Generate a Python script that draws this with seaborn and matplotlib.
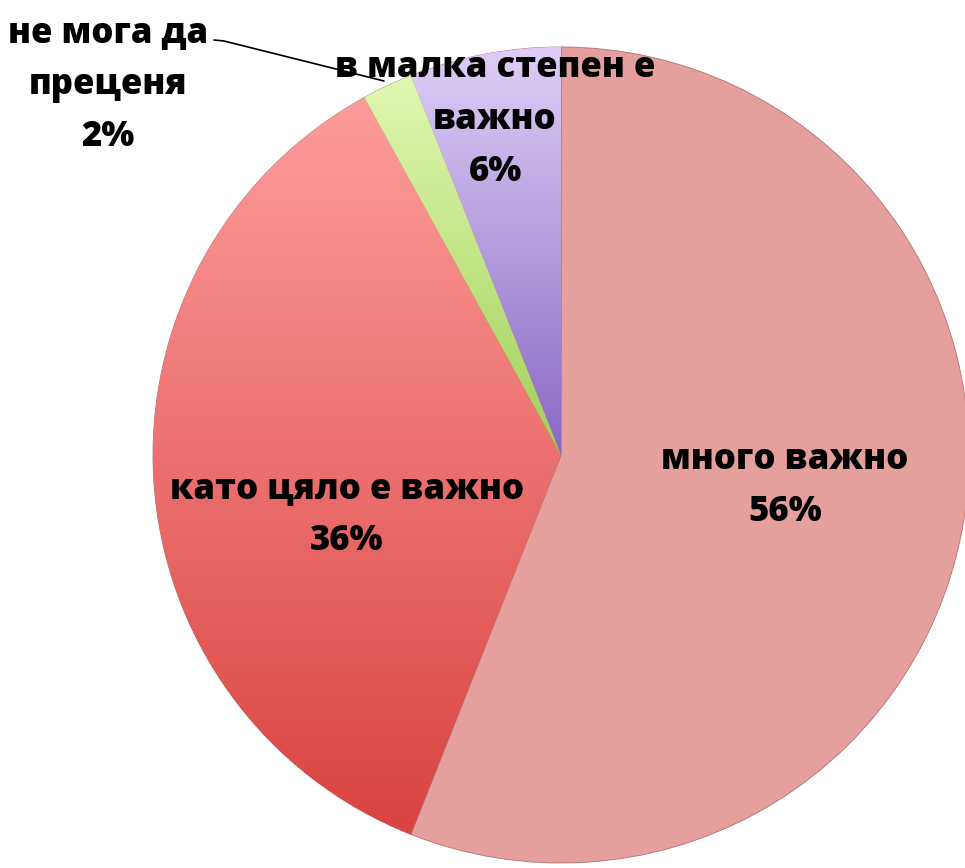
import numpy as np
import matplotlib
matplotlib.use("Agg")
import matplotlib.pyplot as plt
import matplotlib.colors as mcolors
import seaborn as sns

categories = ["много важно", "като цяло е важно", "не мога да преценя", "в малка степен е важно"]
values = [56, 36, 2, 6]
label_texts = ["много важно\n56%", "като цяло е важно\n36%", "не мога да\nпреценя\n2%", "в малка степен е\nважно\n6%"]

sns.set_theme(style="white")
plt.rcParams['font.family'] = ['Open Sans', 'DejaVu Sans']

W, H = 965, 868
fig = plt.figure(figsize=(W / 100, H / 100), dpi=100)
ax = fig.add_axes([0, 0, 1, 1])

cx, cy, R = 561, H - 455, 408
base_colors = ["#E5A09E", "#F88C8A", "#DDF6A6", "#C0A8E8"]
wedges, _ = ax.pie(values, colors=base_colors, startangle=90, counterclock=False,
                   center=(cx, cy), radius=R, frame=True,
                   wedgeprops=dict(edgecolor="#B07070", linewidth=0.6))
ax.set_xlim(0, W)
ax.set_ylim(0, H)
ax.set_aspect("equal")
ax.axis("off")

def grad_fill(wedge, top, bottom, y0, y1):
    cmap = mcolors.LinearSegmentedColormap.from_list("g", [bottom, top])
    grad = np.linspace(0, 1, 256).reshape(-1, 1)
    im = ax.imshow(grad, cmap=cmap, origin="lower", aspect="auto",
                   extent=(cx - R, cx + R, y0, y1), zorder=wedge.get_zorder() + 0.1)
    im.set_clip_path(wedge)

grad_fill(wedges[1], "#FFA3A1", "#D8403D", cy - R, cy + R)
grad_fill(wedges[3], "#DECEF7", "#8868C4", cy, cy + R)
grad_fill(wedges[2], "#E6FBB8", "#A0D058", cy, cy + R)
ax.set_xlim(0, W)
ax.set_ylim(0, H)

fs = 25
kw = dict(ha="center", va="center", fontsize=fs, fontweight=800, color="black",
          linespacing=1.6, zorder=10)
ax.text(785, H - 486, label_texts[0], **kw)
ax.text(347, H - 515, label_texts[1], **kw)
ax.text(495, H - 120, label_texts[3], **kw)
ax.text(108, H - 85, label_texts[2], **kw)
ax.plot([214, 224, 384], [H - 40, H - 41, H - 81], color="black", lw=1.2, zorder=9)

fig.savefig("out.png", dpi=100)
